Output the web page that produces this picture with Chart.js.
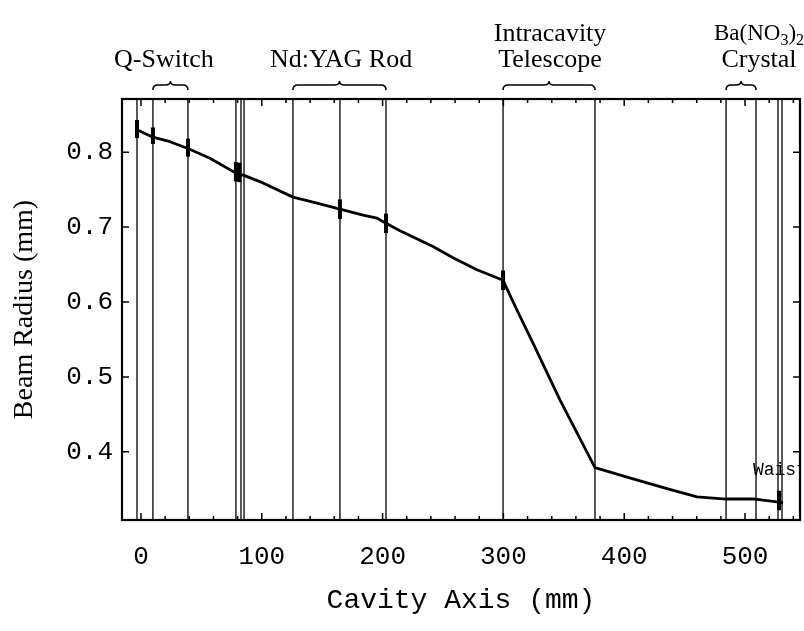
<!DOCTYPE html>
<html>
<head>
<meta charset="utf-8">
<script src="https://cdn.jsdelivr.net/npm/chart.js@4.4.1/dist/chart.umd.min.js"></script>
<style>
  html, body { margin: 0; padding: 0; background: #fff; }
</style>
</head>
<body>
<canvas id="beam-chart" width="804" height="631"></canvas>
<script>
// beam radius along the cavity (mm)
const cavityAxis = [-3.3, 9.9, 24, 38.9, 57.1, 78.6, 85.3, 101, 125.8, 145.7, 164.7, 183.8, 195.4, 202.8,
  214.4, 241.7, 258.3, 278.1, 299.7, 311.3, 324.5, 346.9, 375.8, 407.3, 435.4, 460.3, 484.3, 508.3, 528.1, 531.5]
const beamRadius = [0.830, 0.820, 0.814, 0.805, 0.792, 0.772, 0.769, 0.759, 0.740, 0.732, 0.724, 0.716, 0.712, 0.705,
  0.695, 0.674, 0.659, 0.643, 0.629, 0.589, 0.545, 0.469, 0.379, 0.364, 0.351, 0.340, 0.337, 0.337, 0.333, 0.332]

// optical element surfaces
const elementEdges = [-3.3, 9.9, 38.9, 78.6, 82.8, 85.3, 125.8, 164.7, 202.8, 299.7, 375.8, 484.3, 509.1, 527.3, 530.6]

// measured points with error bars
const errorAxis = [-3.3, 9.9, 38.9, 78.6, 81.5, 164.7, 202.8, 299.7, 528.1]
const errorRadius = [0.831, 0.822, 0.806, 0.774, 0.773, 0.724, 0.705, 0.629, 0.335]
const errorHalf = [0.012, 0.011, 0.012, 0.013, 0.013, 0.013, 0.013, 0.013, 0.013]

const xTicks = [0, 100, 200, 300, 400, 500]
const xMinorTicks = [-20, 20, 40, 60, 80, 120, 140, 160, 180, 220, 240, 260, 280, 320, 340, 360, 380, 420, 440, 460, 480, 520, 540]
const yTicks = [0.4, 0.5, 0.6, 0.7, 0.8]

// element groups labelled above the frame
const sectionLines = [['Q-Switch'], ['Nd:YAG Rod'], ['Intracavity', 'Telescope'], ['Ba(NO|3|)|2', 'Crystal']]
const sectionFrom = [9.9, 125.8, 299.7, 484.3]
const sectionTo = [38.9, 202.8, 375.8, 509.1]
const sectionLabelAt = [19, 165.6, 338.6, 511.6]

const serif = "'Liberation Serif', 'Times New Roman', serif"
const mono = "'Liberation Mono', 'Courier New', monospace"

function drawRich(ctx, text, cx, cy, size) {
  // parts split by '|', odd parts are subscripts
  const parts = text.split('|')
  if (parts.length > 1) size = 23
  const fonts = parts.map((p, i) => (i % 2 ? Math.round(size * 0.7) : size) + 'px ' + serif)
  let total = 0
  parts.forEach((p, i) => { ctx.font = fonts[i]; total += ctx.measureText(p).width })
  let px = cx - total / 2
  ctx.textAlign = 'left'
  ctx.textBaseline = 'middle'
  parts.forEach((p, i) => {
    ctx.font = fonts[i]
    ctx.fillText(p, px, i % 2 ? cy + size * 0.3 : cy)
    px += ctx.measureText(p).width
  })
}

function drawBrace(ctx, x1, x2, yTop) {
  const mid = (x1 + x2) / 2
  const h = 7
  ctx.beginPath()
  ctx.moveTo(x1, yTop + h)
  ctx.quadraticCurveTo(x1, yTop + 2, x1 + 5, yTop + 2)
  ctx.lineTo(mid - 5, yTop + 2)
  ctx.quadraticCurveTo(mid, yTop + 2, mid, yTop - 2)
  ctx.quadraticCurveTo(mid, yTop + 2, mid + 5, yTop + 2)
  ctx.lineTo(x2 - 5, yTop + 2)
  ctx.quadraticCurveTo(x2, yTop + 2, x2, yTop + h)
  ctx.stroke()
}

const cavityMarks = {
  id: 'cavityMarks',
  beforeDatasetsDraw(chart) {
    const {ctx, chartArea: a, scales: {x}} = chart
    ctx.save()
    ctx.strokeStyle = '#000'
    ctx.lineWidth = 1.3
    elementEdges.forEach(v => {
      const px = x.getPixelForValue(v)
      ctx.beginPath()
      ctx.moveTo(px, a.top)
      ctx.lineTo(px, a.bottom)
      ctx.stroke()
    })
    ctx.restore()
  },
  afterDatasetsDraw(chart) {
    const {ctx, chartArea: a, scales: {x, y}} = chart
    ctx.save()
    ctx.strokeStyle = '#000'
    ctx.fillStyle = '#000'

    // error bars
    ctx.lineWidth = 4
    errorAxis.forEach((v, i) => {
      const px = x.getPixelForValue(v)
      ctx.beginPath()
      ctx.moveTo(px, y.getPixelForValue(errorRadius[i] + errorHalf[i]))
      ctx.lineTo(px, y.getPixelForValue(errorRadius[i] - errorHalf[i]))
      ctx.stroke()
    })

    // frame
    ctx.lineWidth = 2.2
    ctx.strokeRect(a.left, a.top, a.right - a.left, a.bottom - a.top)

    // inward ticks
    ctx.lineWidth = 1.5
    const xTick = (v, len) => {
      const px = x.getPixelForValue(v)
      if (px < a.left || px > a.right) return
      ctx.beginPath()
      ctx.moveTo(px, a.bottom); ctx.lineTo(px, a.bottom - len)
      ctx.moveTo(px, a.top); ctx.lineTo(px, a.top + len)
      ctx.stroke()
    }
    xTicks.forEach(v => xTick(v, 7))
    xMinorTicks.forEach(v => xTick(v, 4))
    yTicks.forEach(v => {
      const py = y.getPixelForValue(v)
      ctx.beginPath()
      ctx.moveTo(a.left, py); ctx.lineTo(a.left + 7, py)
      ctx.moveTo(a.right, py); ctx.lineTo(a.right - 7, py)
      ctx.stroke()
    })

    // waist label, cut by the frame
    ctx.save()
    ctx.beginPath()
    ctx.rect(a.left, a.top, a.right - a.left - 1, a.bottom - a.top)
    ctx.clip()
    ctx.font = '18px ' + mono
    ctx.textAlign = 'left'
    ctx.textBaseline = 'middle'
    ctx.fillText('Waist', x.getPixelForValue(506.5), y.getPixelForValue(0.375))
    ctx.restore()

    // section labels with braces
    ctx.lineWidth = 1.6
    sectionLines.forEach((lines, i) => {
      drawBrace(ctx, x.getPixelForValue(sectionFrom[i]), x.getPixelForValue(sectionTo[i]), a.top - 16)
      const cx = x.getPixelForValue(sectionLabelAt[i])
      lines.slice().reverse().forEach((t, k) => drawRich(ctx, t, cx, a.top - 39 - k * 26, 26))
    })
    ctx.restore()
  }
}

Chart.defaults.color = '#000'

const beamChart = new Chart(document.getElementById('beam-chart'), {
  type: 'scatter',
  data: {
    datasets: [{
      label: 'Beam Radius',
      data: cavityAxis.map((v, i) => ({x: v, y: beamRadius[i]})),
      showLine: true,
      borderColor: '#000',
      borderWidth: 2.8,
      borderJoinStyle: 'round',
      pointRadius: 0,
      tension: 0
    }]
  },
  options: {
    responsive: false,
    devicePixelRatio: 1,
    animation: false,
    layout: {padding: {top: 99, right: 4, left: 0, bottom: 0}},
    scales: {
      x: {
        type: 'linear',
        min: -15.7,
        max: 545.5,
        afterBuildTicks: s => { s.ticks = xTicks.map(v => ({value: v})) },
        afterFit: s => { s.height = 111 },
        grid: {display: false, drawTicks: false},
        border: {display: false},
        ticks: {font: {family: mono, size: 26}, padding: 22, maxRotation: 0},
        title: {display: true, text: 'Cavity Axis (mm)', font: {family: mono, size: 28}, padding: {top: 0, bottom: 14}}
      },
      y: {
        min: 0.309,
        max: 0.871,
        afterBuildTicks: s => { s.ticks = yTicks.map(v => ({value: v})) },
        afterFit: s => { s.width = 122 },
        grid: {display: false, drawTicks: false},
        border: {display: false},
        ticks: {font: {family: mono, size: 26}, padding: 9, callback: v => v.toFixed(1)},
        title: {display: true, text: 'Beam Radius (mm)', font: {family: serif, size: 28}, padding: {top: 8, bottom: 0}}
      }
    },
    plugins: {
      legend: {display: false},
      tooltip: {enabled: false}
    }
  },
  plugins: [cavityMarks]
})
</script>
</body>
</html>
